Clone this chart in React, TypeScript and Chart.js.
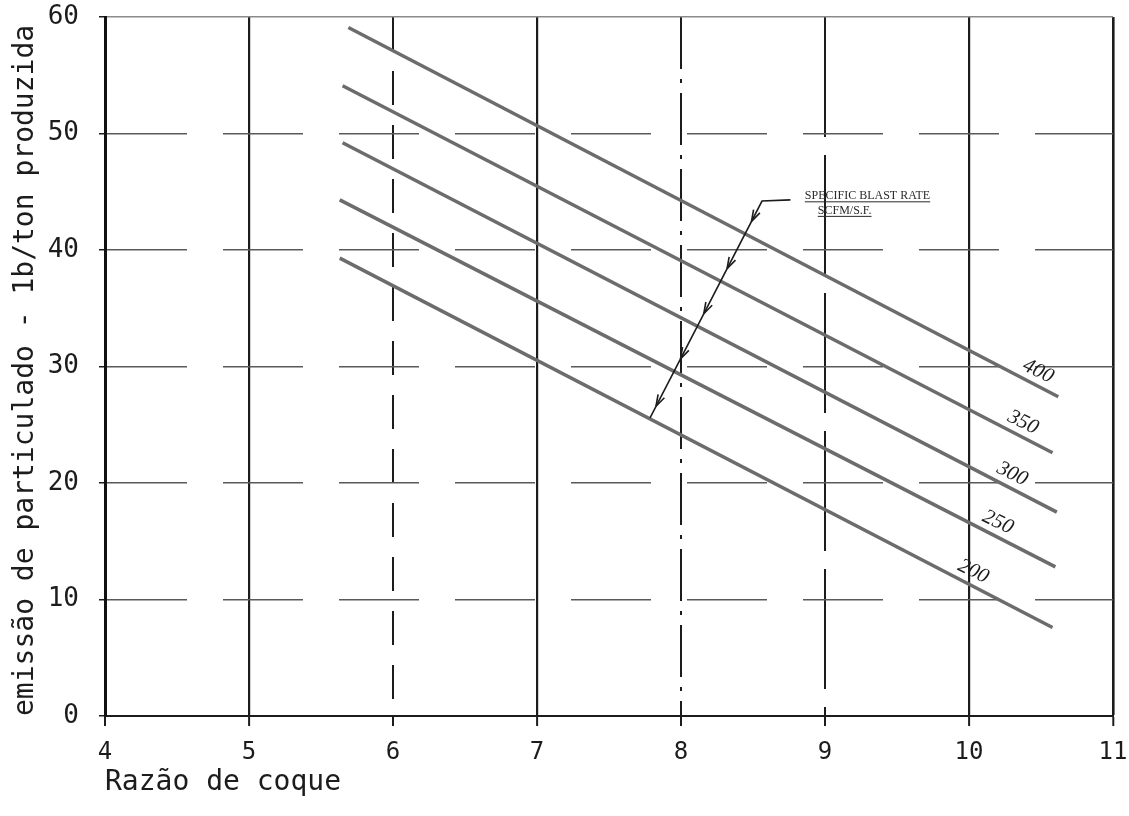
import { useEffect, useRef } from 'react';
import { Chart, registerables } from 'chart.js';

Chart.register(...registerables);

// ---- data ----
const rates = ['400', '350', '300', '250', '200'];
const xStart = [5.69, 5.65, 5.65, 5.63, 5.63];
const yStart = [59.1, 54.1, 49.2, 44.3, 39.3];
const xEnd = [10.62, 10.58, 10.61, 10.6, 10.58];
const yEnd = [27.4, 22.6, 17.5, 12.8, 7.6];
const labelX = [10.48, 10.375, 10.3, 10.2, 10.03];

const xTicks = [4, 5, 6, 7, 8, 9, 10, 11];
const yTicks = [0, 10, 20, 30, 40, 50, 60];

// leader of the "specific blast rate" note
const leaderX = [8.76, 8.5625, 7.785];
const leaderY = [44.3, 44.2, 25.6];
const noteLines = ['SPECIFIC BLAST RATE', 'SCFM/S.F.'];
const noteX = [8.86, 8.95];
const noteY = [44.35, 43.1];

const xTitle = 'Razão de coque';
const yTitle = 'emissão de particulado - 1b/ton produzida';

// ---- styles ----
const MONO = '"DejaVu Sans Mono", monospace';
const INK = '#1c1c1c';
const vDash: Record<number, number[]> = { 6: [34, 20], 8: [52, 10, 4, 10], 9: [120, 18] };
const vWidth: Record<number, number> = { 4: 2, 5: 2.2, 6: 2, 7: 2.2, 8: 2, 9: 2, 10: 2.2, 11: 2.6 };
const hDash = [80, 36];

const annotate = {
  id: 'annotate',
  afterDatasetsDraw(chart: any) {
    const { ctx } = chart;
    const xs = chart.scales.x;
    const ys = chart.scales.y;
    ctx.save();

    // curve labels
    chart.data.datasets.forEach((ds: any, i: number) => {
      const x0 = xs.getPixelForValue(ds.data[0].x);
      const y0 = ys.getPixelForValue(ds.data[0].y);
      const x1 = xs.getPixelForValue(ds.data[1].x);
      const y1 = ys.getPixelForValue(ds.data[1].y);
      const lx = xs.getPixelForValue(labelX[i]);
      const t = (lx - x0) / (x1 - x0);
      const ly = y0 + t * (y1 - y0);
      const ang = Math.atan2(y1 - y0, x1 - x0);
      ctx.save();
      ctx.translate(lx, ly - 15);
      ctx.rotate(ang * 0.95);
      ctx.font = 'italic 21px "Liberation Serif", serif';
      ctx.fillStyle = INK;
      ctx.textAlign = 'center';
      ctx.textBaseline = 'middle';
      ctx.fillText(ds.label, 0, 0);
      ctx.restore();
    });

    // leader line
    const lp = leaderX.map((v, i) => [xs.getPixelForValue(v), ys.getPixelForValue(leaderY[i])]);
    ctx.strokeStyle = INK;
    ctx.lineWidth = 1.6;
    ctx.beginPath();
    ctx.moveTo(lp[0][0], lp[0][1]);
    for (let i = 1; i < lp.length; i++) ctx.lineTo(lp[i][0], lp[i][1]);
    ctx.stroke();

    // arrowheads where the leader crosses each curve
    const [ax, ay] = lp[1];
    const [bx, by] = lp[2];
    const dAng = Math.atan2(by - ay, bx - ax);
    chart.data.datasets.forEach((ds: any) => {
      const cx = xs.getPixelForValue(ds.data[0].x);
      const cy = ys.getPixelForValue(ds.data[0].y);
      const dx = xs.getPixelForValue(ds.data[1].x);
      const dy = ys.getPixelForValue(ds.data[1].y);
      const r1x = bx - ax, r1y = by - ay, r2x = dx - cx, r2y = dy - cy;
      const den = r1x * r2y - r1y * r2x;
      if (Math.abs(den) < 1e-6) return;
      const t = ((cx - ax) * r2y - (cy - ay) * r2x) / den;
      if (t < 0 || t > 1.02) return;
      const ix = ax + t * r1x - Math.cos(dAng) * 14;
      const iy = ay + t * r1y - Math.sin(dAng) * 14;
      ctx.beginPath();
      for (const s of [-1, 1]) {
        const a = dAng + Math.PI + s * 0.3;
        ctx.moveTo(ix, iy);
        ctx.lineTo(ix + Math.cos(a) * 12, iy + Math.sin(a) * 12);
      }
      ctx.stroke();
    });

    // note text, underlined
    ctx.font = '12px "Liberation Serif", serif';
    ctx.fillStyle = '#2a2a2a';
    ctx.strokeStyle = '#2a2a2a';
    ctx.textBaseline = 'alphabetic';
    ctx.textAlign = 'left';
    ctx.lineWidth = 1;
    noteLines.forEach((txt, i) => {
      const px = xs.getPixelForValue(noteX[i]);
      const py = ys.getPixelForValue(noteY[i]);
      ctx.fillText(txt, px, py);
      const w = ctx.measureText(txt).width;
      ctx.beginPath();
      ctx.moveTo(px, py + 2.5);
      ctx.lineTo(px + w, py + 2.5);
      ctx.stroke();
    });

    ctx.restore();
  },
};

export default function App() {
  const ref = useRef<HTMLCanvasElement | null>(null);

  useEffect(() => {
    if (!ref.current) return;
    const datasets = rates.map((r, i) => ({
      label: r,
      data: [
        { x: xStart[i], y: yStart[i] },
        { x: xEnd[i], y: yEnd[i] },
      ],
      showLine: true,
      borderColor: '#6c6c6c',
      borderWidth: 3.5,
      pointRadius: 0,
      fill: false,
      tension: 0,
    }));

    const chart = new Chart(ref.current, {
      type: 'scatter',
      data: { datasets },
      options: {
        animation: false,
        responsive: false,
        events: [],
        layout: { padding: { left: 0, top: 17, right: 16, bottom: 0 } },
        plugins: { legend: { display: false }, tooltip: { enabled: false } },
        scales: {
          x: {
            type: 'linear',
            min: 4,
            max: 11,
            afterBuildTicks: (s: any) => {
              s.ticks = xTicks.map((v) => ({ value: v }));
            },
            afterFit: (s: any) => {
              s.height = 100;
              s.paddingLeft = 0;
              s.paddingRight = 0;
            },
            ticks: {
              font: { family: MONO, size: 24 },
              color: INK,
              padding: 12,
              maxRotation: 0,
              autoSkip: false,
            },
            grid: {
              color: INK,
              lineWidth: (c: any) => vWidth[c.tick?.value] ?? 2,
              tickLength: 10,
              tickColor: INK,
              tickWidth: 2,
            },
            border: {
              color: INK,
              width: 2,
              dash: (c: any) => (c.tick ? vDash[c.tick.value] ?? [] : []),
            },
            title: {
              display: true,
              text: xTitle,
              align: 'start',
              color: INK,
              font: { family: MONO, size: 28 },
              padding: { top: 0, bottom: 16 },
            },
          },
          y: {
            type: 'linear',
            min: 0,
            max: 60,
            afterBuildTicks: (s: any) => {
              s.ticks = yTicks.map((v) => ({ value: v }));
            },
            afterFit: (s: any) => {
              s.width = 105;
              s.paddingTop = 0;
              s.paddingBottom = 0;
            },
            ticks: {
              font: { family: MONO, size: 26 },
              color: INK,
              padding: 20,
            },
            grid: {
              color: (c: any) => (c.tick?.value === 60 ? '#8a8a8a' : c.tick?.value === 0 ? INK : '#5a5a5a'),
              lineWidth: 1.5,
              tickLength: 6,
              tickColor: INK,
              tickWidth: 1.5,
            },
            border: {
              color: '#111',
              width: 3,
              dash: (c: any) => (c.tick && c.tick.value > 0 && c.tick.value < 60 ? hDash : []),
            },
            title: {
              display: true,
              text: yTitle,
              align: 'start',
              color: INK,
              font: { family: MONO, size: 28 },
              padding: { top: 9, bottom: 0 },
            },
          },
        },
      },
      plugins: [annotate],
    } as any);

    return () => chart.destroy();
  }, []);

  return (
    <div style={{ position: 'fixed', left: 0, top: 0, width: 1129, height: 816, background: '#fff' }}>
      <canvas ref={ref} width={1129} height={816} style={{ display: 'block' }} />
    </div>
  );
}
